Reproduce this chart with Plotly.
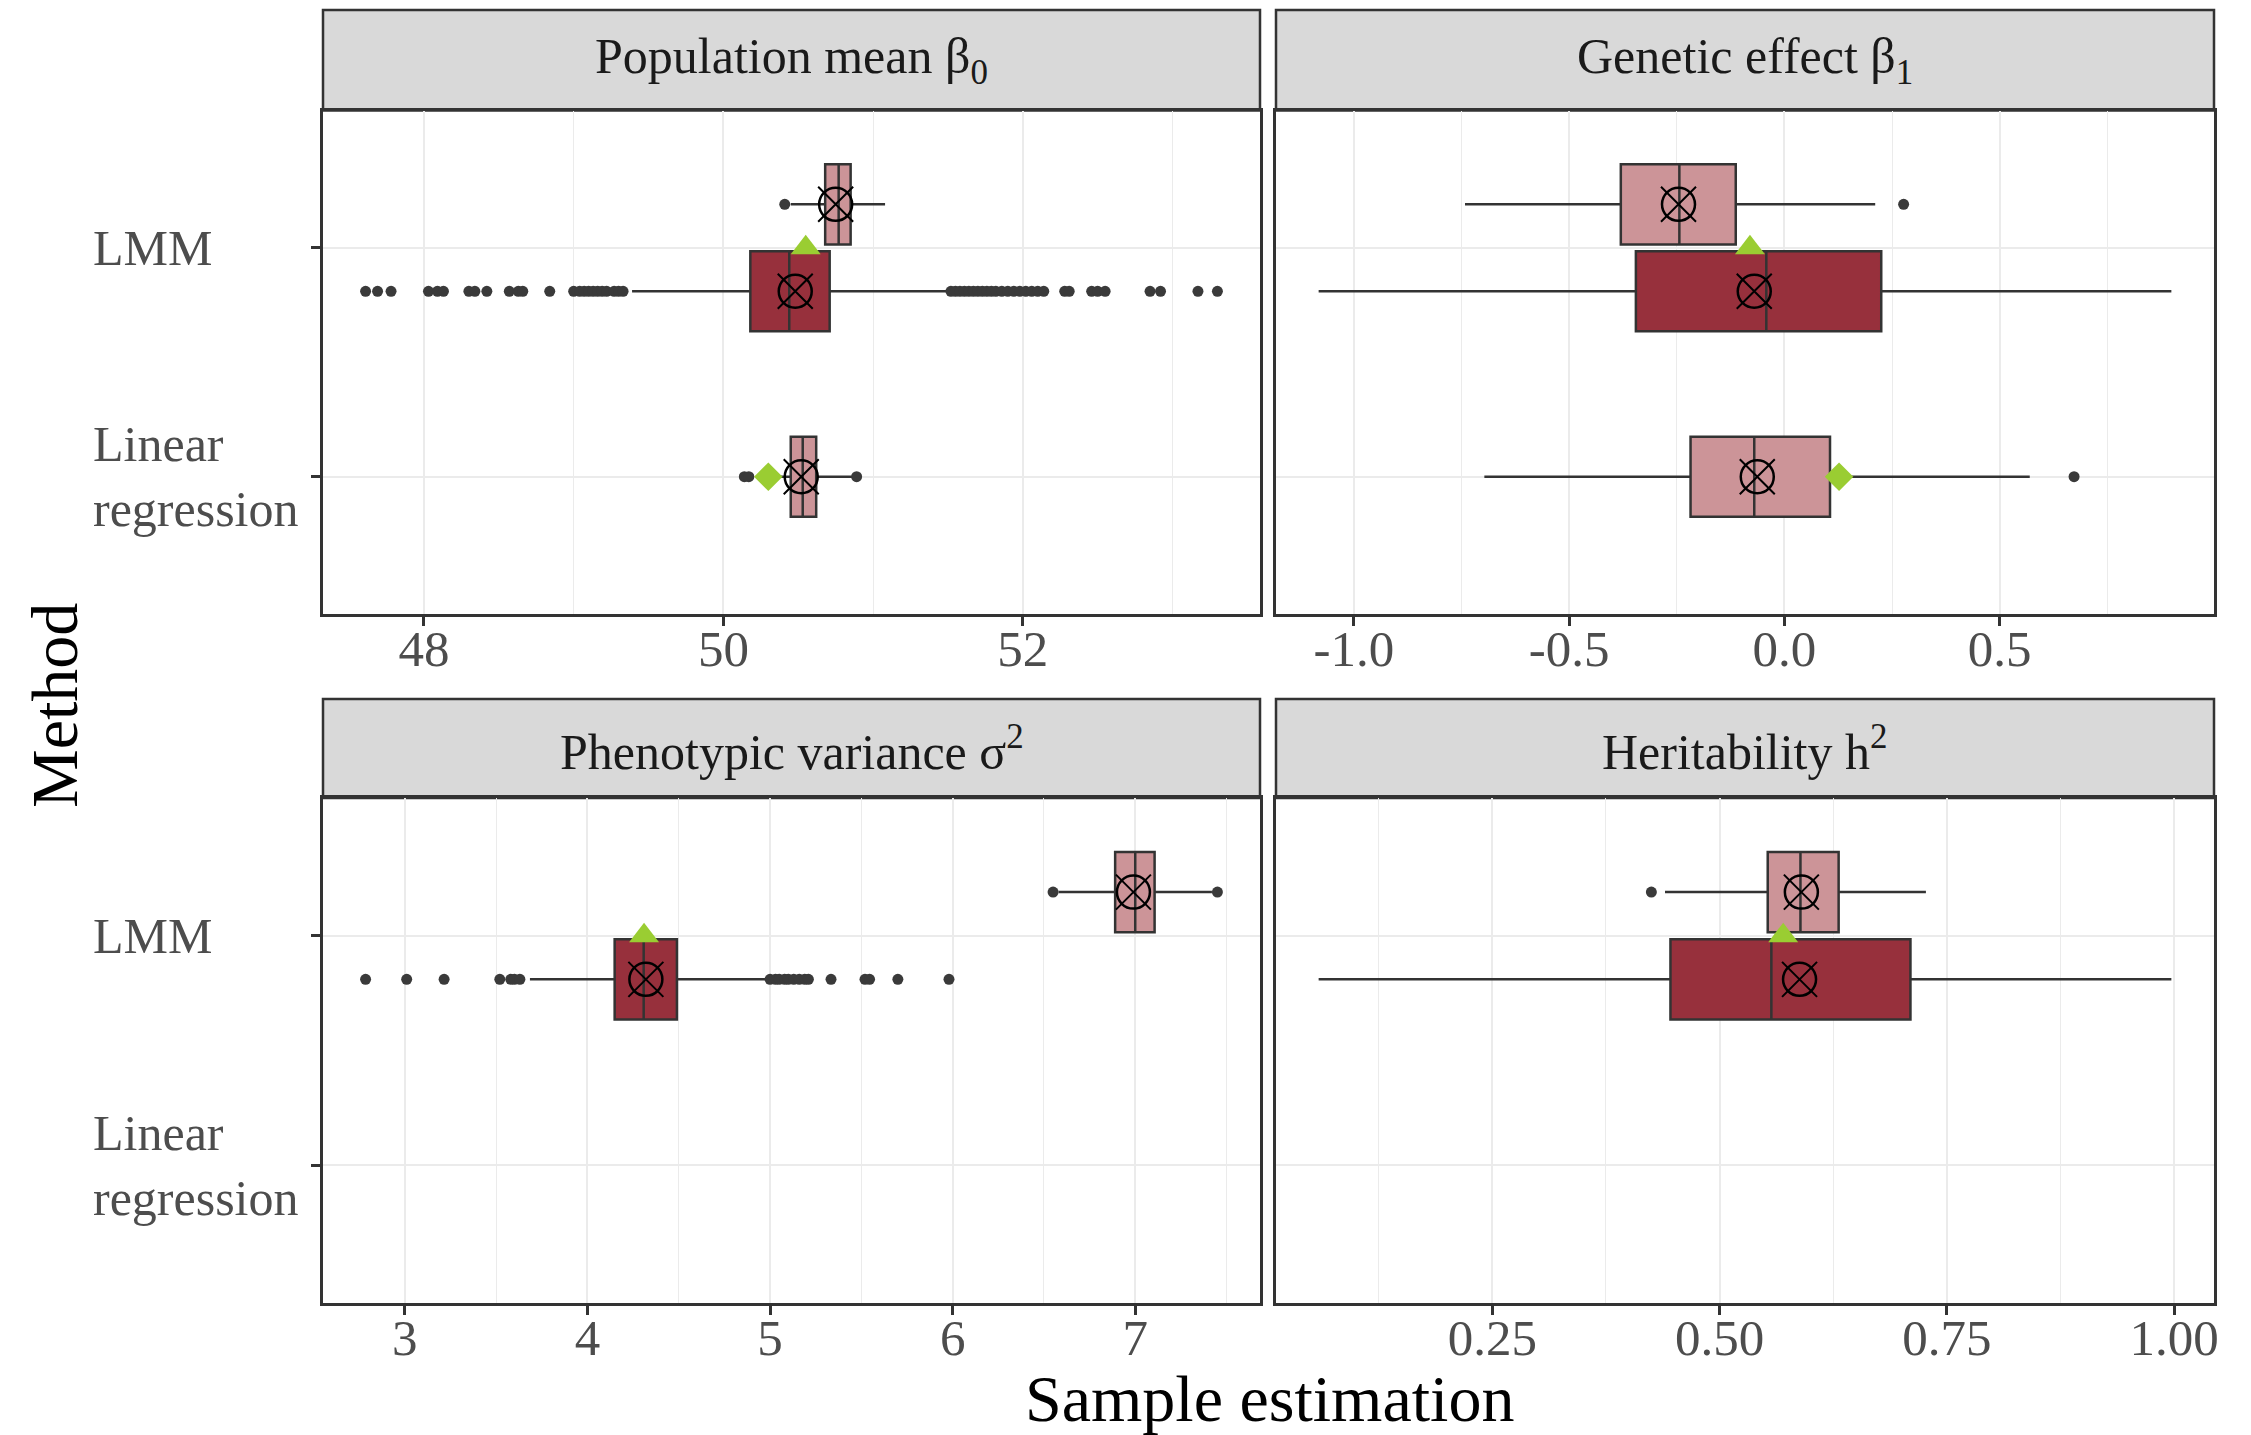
import plotly.graph_objects as go

# ---------------- data ----------------
methods = ["LMM", "Linear regression"]
method_labels = ["LMM", "Linear<br>regression"]

panel_titles = ["Population mean β<sub>0</sub>", "Genetic effect β<sub>1</sub>",
                "Phenotypic variance σ<sup>2</sup>", "Heritability h<sup>2</sup>"]

# Population mean beta0
b0_light_methods = ["LMM", "Linear regression"]
b0_light_q1 = [50.68, 50.45]
b0_light_med = [50.77, 50.53]
b0_light_q3 = [50.85, 50.62]
b0_light_lo = [50.45, 50.22]
b0_light_hi = [51.08, 50.86]
b0_light_mean = [50.75, 50.52]
b0_light_out = [[50.41], [50.14, 50.17, 50.89]]
b0_dark_methods = ["LMM"]
b0_dark_q1 = [50.18]
b0_dark_med = [50.44]
b0_dark_q3 = [50.71]
b0_dark_lo = [49.39]
b0_dark_hi = [51.49]
b0_dark_mean = [50.48]
b0_dark_out = [[47.61, 47.69, 47.78, 48.03, 48.09, 48.13, 48.30, 48.34, 48.42, 48.57, 48.63,
                48.66, 48.84, 49.00, 49.04, 49.07, 49.10, 49.13, 49.16, 49.19, 49.22, 49.27,
                49.30, 49.33,
                51.52, 51.55, 51.58, 51.61, 51.64, 51.67, 51.70, 51.73, 51.76, 51.79, 51.82,
                51.86, 51.90, 51.94, 51.98, 52.02, 52.06, 52.10, 52.14, 52.28, 52.31, 52.46,
                52.50, 52.55, 52.85, 52.92, 53.17, 53.30]]
b0_tri_methods = ["LMM"]
b0_tri = [50.55]
b0_dia_methods = ["Linear regression"]
b0_dia = [50.30]
b0_ticks = [48, 50, 52]
b0_ticktext = ["48", "50", "52"]

# Genetic effect beta1
b1_light_methods = ["LMM", "Linear regression"]
b1_light_q1 = [-0.380, -0.218]
b1_light_med = [-0.244, -0.070]
b1_light_q3 = [-0.113, 0.106]
b1_light_lo = [-0.742, -0.697]
b1_light_hi = [0.211, 0.570]
b1_light_mean = [-0.246, -0.063]
b1_light_out = [[0.277], [0.673]]
b1_dark_methods = ["LMM"]
b1_dark_q1 = [-0.345]
b1_dark_med = [-0.042]
b1_dark_q3 = [0.225]
b1_dark_lo = [-1.082]
b1_dark_hi = [0.899]
b1_dark_mean = [-0.070]
b1_dark_out = [[]]
b1_tri_methods = ["LMM"]
b1_tri = [-0.080]
b1_dia_methods = ["Linear regression"]
b1_dia = [0.127]
b1_ticks = [-1.0, -0.5, 0.0, 0.5]
b1_ticktext = ["-1.0", "-0.5", "0.0", "0.5"]

# Phenotypic variance sigma^2
s2_light_methods = ["LMM"]
s2_light_q1 = [6.89]
s2_light_med = [7.00]
s2_light_q3 = [7.106]
s2_light_lo = [6.58]
s2_light_hi = [7.42]
s2_light_mean = [6.99]
s2_light_out = [[6.55, 7.45]]
s2_dark_methods = ["LMM"]
s2_dark_q1 = [4.149]
s2_dark_med = [4.308]
s2_dark_q3 = [4.49]
s2_dark_lo = [3.685]
s2_dark_hi = [4.987]
s2_dark_mean = [4.32]
s2_dark_out = [[2.785, 3.01, 3.215, 3.52, 3.58, 3.60, 3.63,
                5.00, 5.03, 5.05, 5.08, 5.10, 5.13, 5.16, 5.19, 5.21, 5.334, 5.52, 5.545,
                5.70, 5.98]]
s2_tri_methods = ["LMM"]
s2_tri = [4.31]
s2_dia_methods = []
s2_dia = []
s2_ticks = [3, 4, 5, 6, 7]
s2_ticktext = ["3", "4", "5", "6", "7"]

# Heritability h^2
h2_light_methods = ["LMM"]
h2_light_q1 = [0.553]
h2_light_med = [0.589]
h2_light_q3 = [0.631]
h2_light_lo = [0.44]
h2_light_hi = [0.727]
h2_light_mean = [0.59]
h2_light_out = [[0.425]]
h2_dark_methods = ["LMM"]
h2_dark_q1 = [0.446]
h2_dark_med = [0.557]
h2_dark_q3 = [0.71]
h2_dark_lo = [0.059]
h2_dark_hi = [0.997]
h2_dark_mean = [0.588]
h2_dark_out = [[]]
h2_tri_methods = ["LMM"]
h2_tri = [0.57]
h2_dia_methods = []
h2_dia = []
h2_ticks = [0.25, 0.50, 0.75, 1.00]
h2_ticktext = ["0.25", "0.50", "0.75", "1.00"]

# ---------------- style ----------------
FONT = "Liberation Serif"
LIGHT = "#CC9498"
DARK = "#97303C"
EDGE = "#333333"
GREEN = "#9ACD32"
GRID = "#EBEBEB"
W, H = 2251, 1435

col_px = [(323, 1260), (1276, 2214)]
row_plot_px = [(110.5, 614), (798, 1303)]
row_strip_px = [(10, 110.5), (699, 798)]

def fx(x):
    return x / W

def fy(y):
    return 1 - y / H

def group(methods_, q1, med, q3, lo, hi, mean, out):
    return dict(methods=methods_, q1=q1, med=med, q3=q3, lo=lo, hi=hi, mean=mean, out=out)

panels = [
    dict(title=panel_titles[0],
         light=group(b0_light_methods, b0_light_q1, b0_light_med, b0_light_q3, b0_light_lo, b0_light_hi, b0_light_mean, b0_light_out),
         dark=group(b0_dark_methods, b0_dark_q1, b0_dark_med, b0_dark_q3, b0_dark_lo, b0_dark_hi, b0_dark_mean, b0_dark_out),
         tri=(b0_tri_methods, b0_tri), dia=(b0_dia_methods, b0_dia), ticks=b0_ticks, ticktext=b0_ticktext),
    dict(title=panel_titles[1],
         light=group(b1_light_methods, b1_light_q1, b1_light_med, b1_light_q3, b1_light_lo, b1_light_hi, b1_light_mean, b1_light_out),
         dark=group(b1_dark_methods, b1_dark_q1, b1_dark_med, b1_dark_q3, b1_dark_lo, b1_dark_hi, b1_dark_mean, b1_dark_out),
         tri=(b1_tri_methods, b1_tri), dia=(b1_dia_methods, b1_dia), ticks=b1_ticks, ticktext=b1_ticktext),
    dict(title=panel_titles[2],
         light=group(s2_light_methods, s2_light_q1, s2_light_med, s2_light_q3, s2_light_lo, s2_light_hi, s2_light_mean, s2_light_out),
         dark=group(s2_dark_methods, s2_dark_q1, s2_dark_med, s2_dark_q3, s2_dark_lo, s2_dark_hi, s2_dark_mean, s2_dark_out),
         tri=(s2_tri_methods, s2_tri), dia=(s2_dia_methods, s2_dia), ticks=s2_ticks, ticktext=s2_ticktext),
    dict(title=panel_titles[3],
         light=group(h2_light_methods, h2_light_q1, h2_light_med, h2_light_q3, h2_light_lo, h2_light_hi, h2_light_mean, h2_light_out),
         dark=group(h2_dark_methods, h2_dark_q1, h2_dark_med, h2_dark_q3, h2_dark_lo, h2_dark_hi, h2_dark_mean, h2_dark_out),
         tri=(h2_tri_methods, h2_tri), dia=(h2_dia_methods, h2_dia), ticks=h2_ticks, ticktext=h2_ticktext),
]

method_pos = {m: len(methods) - i for i, m in enumerate(methods)}  # LMM top
DODGE = 0.19
BOXW = 0.35

fig = go.Figure()
layout = dict(
    width=W, height=H, margin=dict(l=0, r=0, t=0, b=0, pad=0),
    paper_bgcolor="white", plot_bgcolor="white", showlegend=False,
    boxmode="overlay", font=dict(family=FONT), hovermode=False,
)
shapes, annotations = [], []

for k, p in enumerate(panels):
    r, c = divmod(k, 2)
    sx = "" if k == 0 else str(k + 1)
    xref, yref = "x" + sx, "y" + sx

    def pos(group_name, m):
        n = sum(m in p[g]["methods"] for g in ("light", "dark"))
        base = method_pos[m]
        if n < 2:
            return base
        return base + (DODGE if group_name == "light" else -DODGE)

    allvals = []
    for gname, fill in (("light", LIGHT), ("dark", DARK)):
        g = p[gname]
        if not g["methods"]:
            continue
        ys = [pos(gname, m) for m in g["methods"]]
        fig.add_trace(go.Box(
            orientation="h", y=ys, q1=g["q1"], median=g["med"], q3=g["q3"],
            lowerfence=g["lo"], upperfence=g["hi"], width=BOXW, whiskerwidth=0,
            fillcolor=fill, line=dict(color=EDGE, width=2.5), boxpoints=False,
            xaxis=xref, yaxis=yref))
        ox, oy = [], []
        for yy, outs in zip(ys, g["out"]):
            ox += outs
            oy += [yy] * len(outs)
        fig.add_trace(go.Scatter(x=ox, y=oy, mode="markers", xaxis=xref, yaxis=yref,
                                 marker=dict(size=11, color="#3A3A3A")))
        fig.add_trace(go.Scatter(x=g["mean"], y=ys, mode="markers", xaxis=xref, yaxis=yref,
                                 marker=dict(symbol="circle-open", size=33, color="black",
                                             line=dict(color="black", width=2.5))))
        fig.add_trace(go.Scatter(x=g["mean"], y=ys, mode="markers", xaxis=xref, yaxis=yref,
                                 marker=dict(symbol="x-thin-open", size=35, color="black",
                                             line=dict(color="black", width=2))))
        allvals += g["lo"] + g["hi"] + [v for o in g["out"] for v in o]
    tm, tv = p["tri"]
    if tv:
        fig.add_trace(go.Scatter(x=tv, y=[method_pos[m] for m in tm], mode="markers",
                                 xaxis=xref, yaxis=yref,
                                 marker=dict(symbol="triangle-up", size=26, color=GREEN)))
    dm, dv = p["dia"]
    if dv:
        fig.add_trace(go.Scatter(x=dv, y=[method_pos[m] for m in dm], mode="markers",
                                 xaxis=xref, yaxis=yref,
                                 marker=dict(symbol="diamond", size=22, color=GREEN)))
    allvals += tv + dv
    mn, mx = min(allvals), max(allvals)
    span = mx - mn
    ticks = p["ticks"]
    step = ticks[1] - ticks[0]
    minor_vals = [ticks[0] - step / 2] + [t + step / 2 for t in ticks]

    x0, x1 = col_px[c]
    yt, yb = row_plot_px[r]
    layout["xaxis" + sx] = dict(
        domain=[fx(x0), fx(x1)], anchor=yref, range=[mn - 0.05 * span, mx + 0.05 * span],
        tickmode="array", tickvals=ticks, ticktext=p["ticktext"],
        ticks="outside", ticklen=9, tickwidth=2.5, tickcolor=EDGE,
        ticklabelstandoff=-21,
        tickfont=dict(family=FONT, size=51, color="#4D4D4D"),
        showgrid=True, gridcolor=GRID, gridwidth=2.2,
        minor=dict(tickvals=minor_vals, showgrid=True, gridcolor=GRID, gridwidth=1.4, ticks=""),
        showline=True, linecolor=EDGE, linewidth=2.5, mirror=True,
        zeroline=False, automargin=False, fixedrange=True,
    )
    layout["yaxis" + sx] = dict(
        domain=[fy(yb), fy(yt)], anchor=xref, range=[0.4, len(methods) + 0.6],
        tickmode="array", tickvals=[method_pos[m] for m in methods],
        ticks="outside" if c == 0 else "", ticklen=9, tickwidth=2.5, tickcolor=EDGE,
        showticklabels=False,
        showgrid=True, gridcolor=GRID, gridwidth=2.2,
        showline=True, linecolor=EDGE, linewidth=2.5, mirror=True,
        zeroline=False, automargin=False, fixedrange=True,
    )
    # strip
    st, sb = row_strip_px[r]
    shapes.append(dict(type="rect", xref="paper", yref="paper", x0=fx(x0), x1=fx(x1),
                       y0=fy(sb), y1=fy(st), fillcolor="#D9D9D9",
                       line=dict(color=EDGE, width=2.5), layer="below"))
    annotations.append(dict(text=p["title"], xref="paper", yref="paper",
                            x=fx((x0 + x1) / 2), y=fy((st + sb) / 2),
                            xanchor="center", yanchor="middle", showarrow=False,
                            font=dict(family=FONT, size=50, color="#1A1A1A")))
    # y labels (left column)
    if c == 0:
        for m, lab in zip(methods, method_labels):
            annotations.append(dict(text=lab, xref="paper", yref=yref, x=fx(91), y=method_pos[m],
                                    xanchor="left", yanchor="middle", align="left",
                                    showarrow=False,
                                    font=dict(family=FONT, size=50, color="#4D4D4D")))

annotations.append(dict(text="Sample estimation", xref="paper", yref="paper",
                        x=fx(1269), y=fy(1398), xanchor="center", yanchor="middle",
                        showarrow=False, font=dict(family=FONT, size=66, color="black")))
annotations.append(dict(text="Method", xref="paper", yref="paper", textangle=-90,
                        x=fx(54), y=fy(706), xanchor="center", yanchor="middle",
                        showarrow=False, font=dict(family=FONT, size=66, color="black")))

layout["shapes"] = shapes
layout["annotations"] = annotations
fig.update_layout(**layout)
fig.write_html("out.html")
